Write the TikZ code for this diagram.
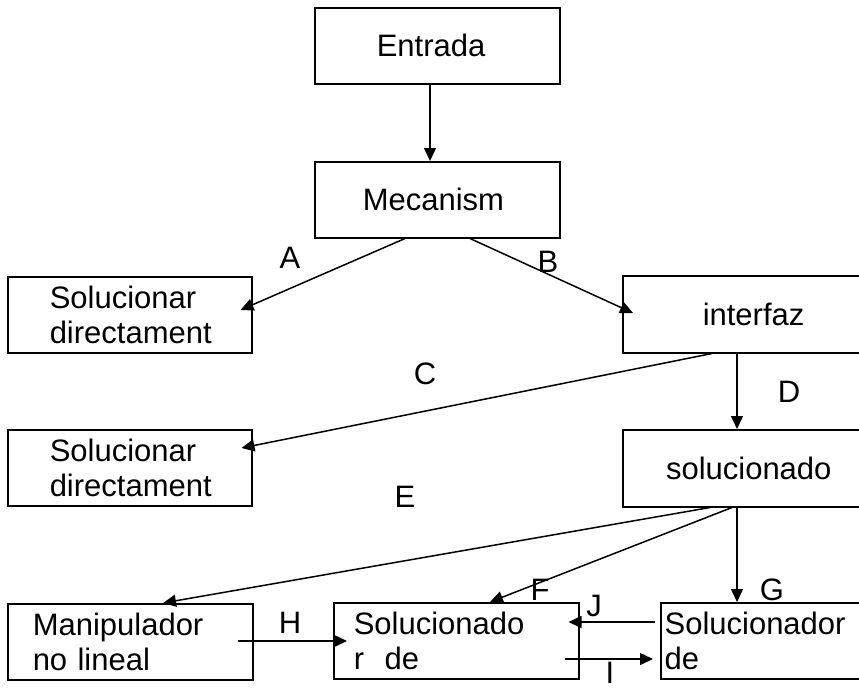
\documentclass[tikz,border=0pt]{standalone}
\usepackage{fontspec}
\setmainfont{Liberation Sans}
\usetikzlibrary{arrows.meta,calc}
\begin{document}
\begin{tikzpicture}[x=1pt,y=-1pt,
  every node/.style={font=\fontsize{31}{35}\selectfont},
  box/.style={draw, line width=1.5pt, rectangle, inner sep=0pt, anchor=north west},
  cbox/.style={box, align=center},
  lbox/.style={box, align=left},
  link/.style={line width=1.5pt, -{Triangle[length=13pt,width=12pt]}},
  tag/.style={inner sep=0pt}]
\useasboundingbox (0,0) rectangle (859,691);
\clip (0,0) rectangle (859,691);

% boxes
\node[lbox, text width=121pt, inner xsep=62pt, minimum height=76pt] (entrada) at (314,7) {Entrada};
\node[lbox, text width=149pt, inner xsep=48pt, minimum height=76pt] (mec) at (314,161) {Mecanism};
\node[lbox, text width=160pt, inner xsep=42pt, minimum height=76pt] (sd1) at (7,276) {Solucionar\\directament};
\node[lbox, text width=118pt, inner xsep=80pt, minimum height=77pt] (intf) at (622,275) {interfaz};
\node[lbox, text width=160pt, inner xsep=42pt, minimum height=76pt] (sd2) at (7,429) {Solucionar\\directament};
\node[cbox, minimum width=252pt, minimum height=77pt] (solu) at (622,429) {solucionado};
\node[lbox, text width=195pt, inner xsep=25pt, minimum height=76pt] (manip) at (7,603) {Manipulador\\no lineal};
\node[lbox, text width=205pt, inner xsep=20pt, minimum height=76pt] (solmid) at (333,602) {Solucionado\\r\ \ de};
\node[lbox, line width=2.2pt, text width=230pt, inner xsep=3.5pt, minimum height=76pt] (solright) at (660,602) {Solucionador\\de};

% connectors
\draw[link] ($(entrada.south west)+(116,0)$) -- ($(mec.north west)+(116,0)$);
\draw[link] ($(mec.south west)+(91,0)$) -- ($(sd1.north east)+(-12,34)$);
\draw[link] ($(mec.south west)+(156,0)$) -- ($(intf.north west)+(11,38)$);
\draw[link] ($(intf.south west)+(90,0)$) -- ($(sd2.north east)+(-11,19)$);
\draw[link] ($(intf.south west)+(115,0)$) -- ($(solu.north west)+(115,0)$);
\draw[link] ($(solu.south west)+(88,0)$) -- ($(manip.north west)+(156,0)$);
\draw[link] ($(solu.south west)+(110,0)$) -- ($(solmid.north west)+(157,0)$);
\draw[link] ($(solu.south west)+(115,0)$) -- ($(solright.north west)+(77,0)$);
\draw[link] ($(manip.north west)+(231,38)$) -- ($(solmid.north west)+(14,39)$);
\draw[link] ($(solright.north west)+(-5,20)$) -- ($(solmid.north east)+(-11,20)$);
\draw[link] ($(solmid.north east)+(-15,57)$) -- ($(solright.north west)+(-7,57)$);

% connector labels
\node[tag] (la) at (290,258) {A};
\node[tag] (lb) at (548,262) {B};
\node[tag] (lc) at (425,374) {C};
\node[tag] (ld) at (789,392) {D};
\node[tag] (le) at (405,497) {E};
\node[tag] (lf) at (540,590) {F};
\node[tag] (lg) at (772,590) {G};
\node[tag] (lh) at (290,623) {H};
\node[tag] (lj) at (594,606) {J};
\node[tag] (li) at (610,673) {I};
\end{tikzpicture}
\end{document}
